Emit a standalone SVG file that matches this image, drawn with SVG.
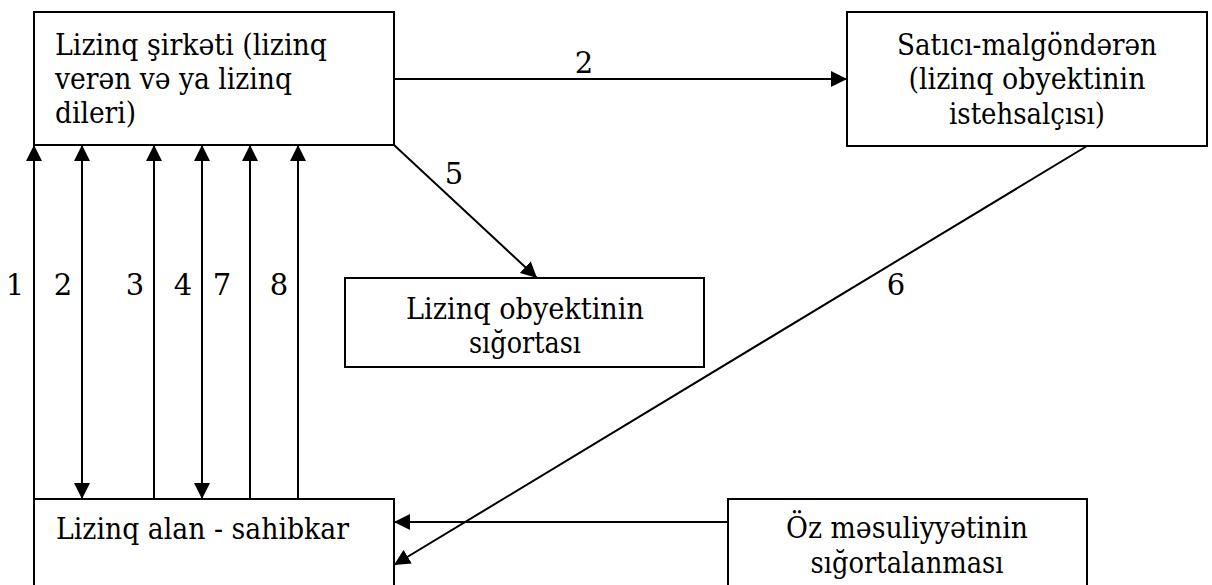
<svg xmlns="http://www.w3.org/2000/svg" width="1212" height="585" viewBox="0 0 1212 585">
  <style>
    text { font-family: "DejaVu Serif", "Liberation Serif", serif; fill: #000; }
    .box { fill: #fff; stroke: #000; stroke-width: 2; }
    .txt { font-size: 30px; }
    .mid { text-anchor: middle; }
    .lbl { font-size: 29px; text-anchor: middle; }
    .edge { fill: none; stroke: #000; stroke-width: 2; }
  </style>
  <defs>
    <marker id="arrow" markerUnits="userSpaceOnUse" markerWidth="16" markerHeight="16" refX="16" refY="8" orient="auto-start-reverse">
      <path d="M0,0 L16,8 L0,16 z" fill="#000"/>
    </marker>
  </defs>

  <rect width="1212" height="585" fill="#fff"/>

  <!-- connectors -->
  <g id="connectors">
    <!-- 2: leasing company to supplier -->
    <line class="edge" x1="394" y1="79" x2="847" y2="79" marker-end="url(#arrow)"/>
    <text class="lbl" x="584" y="73">2</text>
    <!-- 5: leasing company to insurance of the object -->
    <line class="edge" x1="394" y1="145" x2="537" y2="278" marker-end="url(#arrow)"/>
    <text class="lbl" x="454" y="184">5</text>
    <!-- 6: supplier to lessee -->
    <line class="edge" x1="1087" y1="146" x2="394" y2="565" marker-end="url(#arrow)"/>
    <text class="lbl" x="896" y="295">6</text>
    <!-- liability insurance to lessee -->
    <line class="edge" x1="728" y1="522" x2="394" y2="522" marker-end="url(#arrow)"/>
    <!-- vertical links between lessee and leasing company -->
    <line class="edge" x1="34" y1="499" x2="34" y2="145" marker-end="url(#arrow)"/>
    <line class="edge" x1="82" y1="499" x2="82" y2="145" marker-start="url(#arrow)" marker-end="url(#arrow)"/>
    <line class="edge" x1="154" y1="499" x2="154" y2="145" marker-end="url(#arrow)"/>
    <line class="edge" x1="202" y1="499" x2="202" y2="145" marker-start="url(#arrow)" marker-end="url(#arrow)"/>
    <line class="edge" x1="250" y1="499" x2="250" y2="145" marker-end="url(#arrow)"/>
    <line class="edge" x1="298" y1="499" x2="298" y2="145" marker-end="url(#arrow)"/>
    <text class="lbl" x="15" y="295">1</text>
    <text class="lbl" x="63" y="295">2</text>
    <text class="lbl" x="135" y="295">3</text>
    <text class="lbl" x="183" y="295">4</text>
    <text class="lbl" x="222" y="295">7</text>
    <text class="lbl" x="279" y="295">8</text>
  </g>

  <!-- leasing company -->
  <g id="lessor">
    <rect class="box" x="34" y="12" width="360" height="133"/>
    <text class="txt" x="55" y="55" textLength="272" lengthAdjust="spacingAndGlyphs">Lizinq şirkəti (lizinq</text>
    <text class="txt" x="55" y="89" textLength="237" lengthAdjust="spacingAndGlyphs">verən və ya lizinq</text>
    <text class="txt" x="55" y="123" textLength="81" lengthAdjust="spacingAndGlyphs">dileri)</text>
  </g>

  <!-- supplier / manufacturer -->
  <g id="supplier">
    <rect class="box" x="847" y="12" width="360" height="134"/>
    <text class="txt mid" x="1027" y="55" textLength="260" lengthAdjust="spacingAndGlyphs">Satıcı-malgöndərən</text>
    <text class="txt mid" x="1027" y="89" textLength="237" lengthAdjust="spacingAndGlyphs">(lizinq obyektinin</text>
    <text class="txt mid" x="1027" y="124" textLength="156" lengthAdjust="spacingAndGlyphs">istehsalçısı)</text>
  </g>

  <!-- insurance of the leased object -->
  <g id="object-insurance">
    <rect class="box" x="345" y="278" width="359" height="89"/>
    <text class="txt mid" x="525" y="319" textLength="238" lengthAdjust="spacingAndGlyphs">Lizinq obyektinin</text>
    <text class="txt mid" x="525" y="353" textLength="112" lengthAdjust="spacingAndGlyphs">sığortası</text>
  </g>

  <!-- lessee -->
  <g id="lessee">
    <rect class="box" x="34" y="499" width="360" height="110"/>
    <text class="txt" x="56" y="539" textLength="293" lengthAdjust="spacingAndGlyphs">Lizinq alan - sahibkar</text>
  </g>

  <!-- liability insurance -->
  <g id="liability-insurance">
    <rect class="box" x="728" y="499" width="359" height="110"/>
    <text class="txt mid" x="907" y="538" textLength="242" lengthAdjust="spacingAndGlyphs">Öz məsuliyyətinin</text>
    <text class="txt mid" x="907" y="573" textLength="193" lengthAdjust="spacingAndGlyphs">sığortalanması</text>
  </g>
</svg>
